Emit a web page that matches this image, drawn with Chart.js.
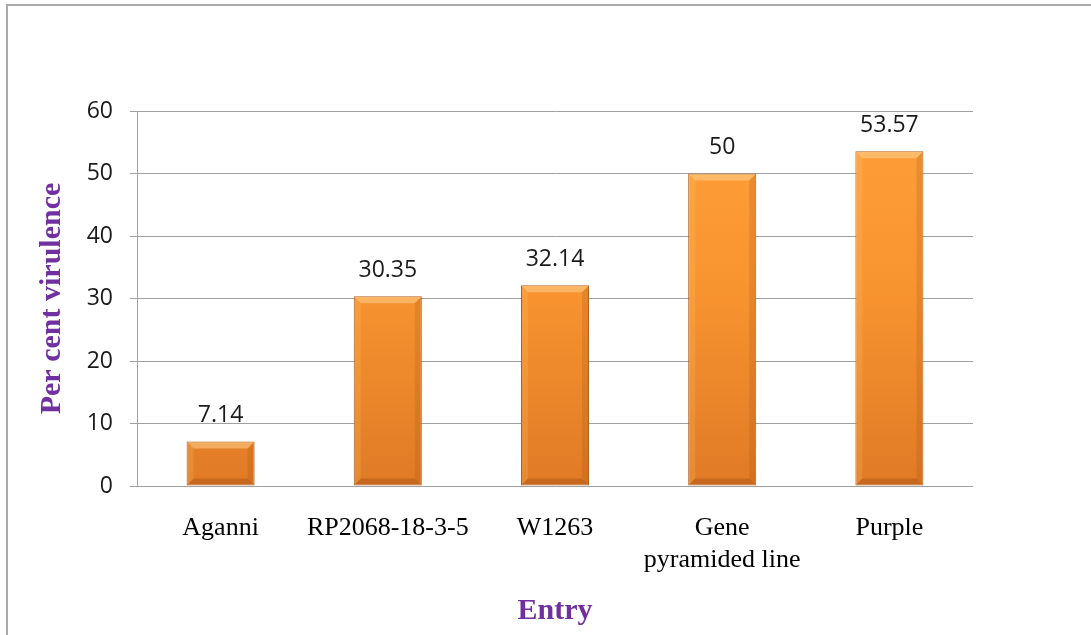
<!DOCTYPE html>
<html>
<head>
<meta charset="utf-8">
<script src="https://cdn.jsdelivr.net/npm/chart.js@4"></script>
<style>
  html, body { margin: 0; padding: 0; background: #fff; }
  #wrap { position: relative; width: 1091px; height: 635px; overflow: hidden; }
  #frame { position: absolute; left: 6px; top: 4px; width: 1200px; height: 700px;
           border-left: 2px solid #aaaaaa; border-top: 2px solid #aaaaaa; pointer-events: none; }
  canvas { position: absolute; left: 0; top: 0; }
</style>
</head>
<body>
<div id="wrap">
  <canvas id="mainChart" width="1091" height="635"></canvas>
  <div id="frame"></div>
</div>
<script>
  // chart data
  const entries = ['Aganni', 'RP2068-18-3-5', 'W1263', ['Gene', 'pyramided line'], 'Purple'];
  const virulence = [7.14, 30.35, 32.14, 50, 53.57];
  const yTicks = [0, 10, 20, 30, 40, 50, 60];

  const PURPLE = '#7030a0';

  // vertical orange gradient for bars
  function barFill(context) {
    const chart = context.chart;
    const area = chart.chartArea;
    if (!area) return '#f7922d';
    const el = context.element;
    const top = el && el.y != null ? el.y : area.top;
    const bottom = el && el.base != null ? el.base : area.bottom;
    const g = chart.ctx.createLinearGradient(0, top, 0, bottom);
    g.addColorStop(0, '#ff9f3a');
    g.addColorStop(0.45, '#f99530');
    g.addColorStop(1, '#e07a26');
    return g;
  }

  // bevel look + value labels
  const bevelLabels = {
    id: 'bevelLabels',
    afterDatasetsDraw(chart) {
      const ctx = chart.ctx;
      const meta = chart.getDatasetMeta(0);
      meta.data.forEach((bar, i) => {
        const left = bar.x - bar.width / 2;
        const right = bar.x + bar.width / 2;
        const top = bar.y;
        const bottom = bar.base;
        const b = Math.min(7, (bottom - top) / 3);
        ctx.save();
        // top lighter strip
        ctx.fillStyle = 'rgba(255,215,150,0.5)';
        ctx.beginPath();
        ctx.moveTo(left + 1, top + 1);
        ctx.lineTo(right - 1, top + 1);
        ctx.lineTo(right - b, top + b);
        ctx.lineTo(left + b, top + b);
        ctx.closePath();
        ctx.fill();
        // left side light
        ctx.fillStyle = 'rgba(255,200,120,0.2)';
        ctx.beginPath();
        ctx.moveTo(left + 1, top + 1);
        ctx.lineTo(left + b, top + b);
        ctx.lineTo(left + b, bottom - b);
        ctx.lineTo(left + 1, bottom - 1);
        ctx.closePath();
        ctx.fill();
        // right side dark
        ctx.fillStyle = 'rgba(150,70,10,0.18)';
        ctx.beginPath();
        ctx.moveTo(right - 1, top + 1);
        ctx.lineTo(right - b, top + b);
        ctx.lineTo(right - b, bottom - b);
        ctx.lineTo(right - 1, bottom - 1);
        ctx.closePath();
        ctx.fill();
        // bottom dark
        ctx.fillStyle = 'rgba(140,60,10,0.3)';
        ctx.beginPath();
        ctx.moveTo(left + 1, bottom - 1);
        ctx.lineTo(right - 1, bottom - 1);
        ctx.lineTo(right - b, bottom - b);
        ctx.lineTo(left + b, bottom - b);
        ctx.closePath();
        ctx.fill();
        // value label
        ctx.fillStyle = '#1a1a1a';
        ctx.font = '23px "Open Sans"';
        ctx.textAlign = 'center';
        ctx.textBaseline = 'middle';
        ctx.fillText(String(virulence[i]), bar.x, top - 26);
        ctx.restore();
      });
    }
  };

  const ctx = document.getElementById('mainChart').getContext('2d');
  new Chart(ctx, {
    type: 'bar',
    data: {
      labels: entries,
      datasets: [{
        data: virulence,
        backgroundColor: barFill,
        borderColor: '#b0601c',
        borderWidth: 1,
        borderSkipped: false,
        categoryPercentage: 1,
        barPercentage: 0.407
      }]
    },
    options: {
      responsive: false,
      animation: false,
      layout: { padding: { left: 34, top: 111, right: 118, bottom: 0 } },
      plugins: {
        legend: { display: false },
        tooltip: { enabled: false }
      },
      scales: {
        x: {
          grid: { display: false, drawTicks: false },
          border: { display: false },
          ticks: {
            color: '#000',
            padding: 27,
            maxRotation: 0,
            autoSkip: false,
            font: { family: '"Liberation Serif"', size: 26, lineHeight: 1.2 }
          },
          title: {
            display: true,
            text: 'Entry',
            color: PURPLE,
            padding: { top: 0, bottom: 6 },
            font: { family: '"Liberation Serif"', size: 30, weight: 'bold', lineHeight: 1.2 }
          },
          afterFit(scale) { scale.height = 149; }
        },
        y: {
          min: 0,
          max: 60,
          afterBuildTicks(scale) { scale.ticks = yTicks.map(v => ({ value: v })); },
          grid: { color: '#a0a0a0', lineWidth: 1, tickLength: 7 },
          border: { display: true, color: '#a0a0a0', width: 1 },
          ticks: {
            color: '#1a1a1a',
            padding: 17,
            font: { family: '"Open Sans"', size: 23 }
          },
          title: {
            display: true,
            text: 'Per cent virulence',
            color: PURPLE,
            padding: 0,
            font: { family: '"Liberation Serif"', size: 30, weight: 'bold', lineHeight: 1.2 }
          },
          afterFit(scale) { scale.width = 103; }
        }
      }
    },
    plugins: [bevelLabels]
  });
</script>
</body>
</html>
